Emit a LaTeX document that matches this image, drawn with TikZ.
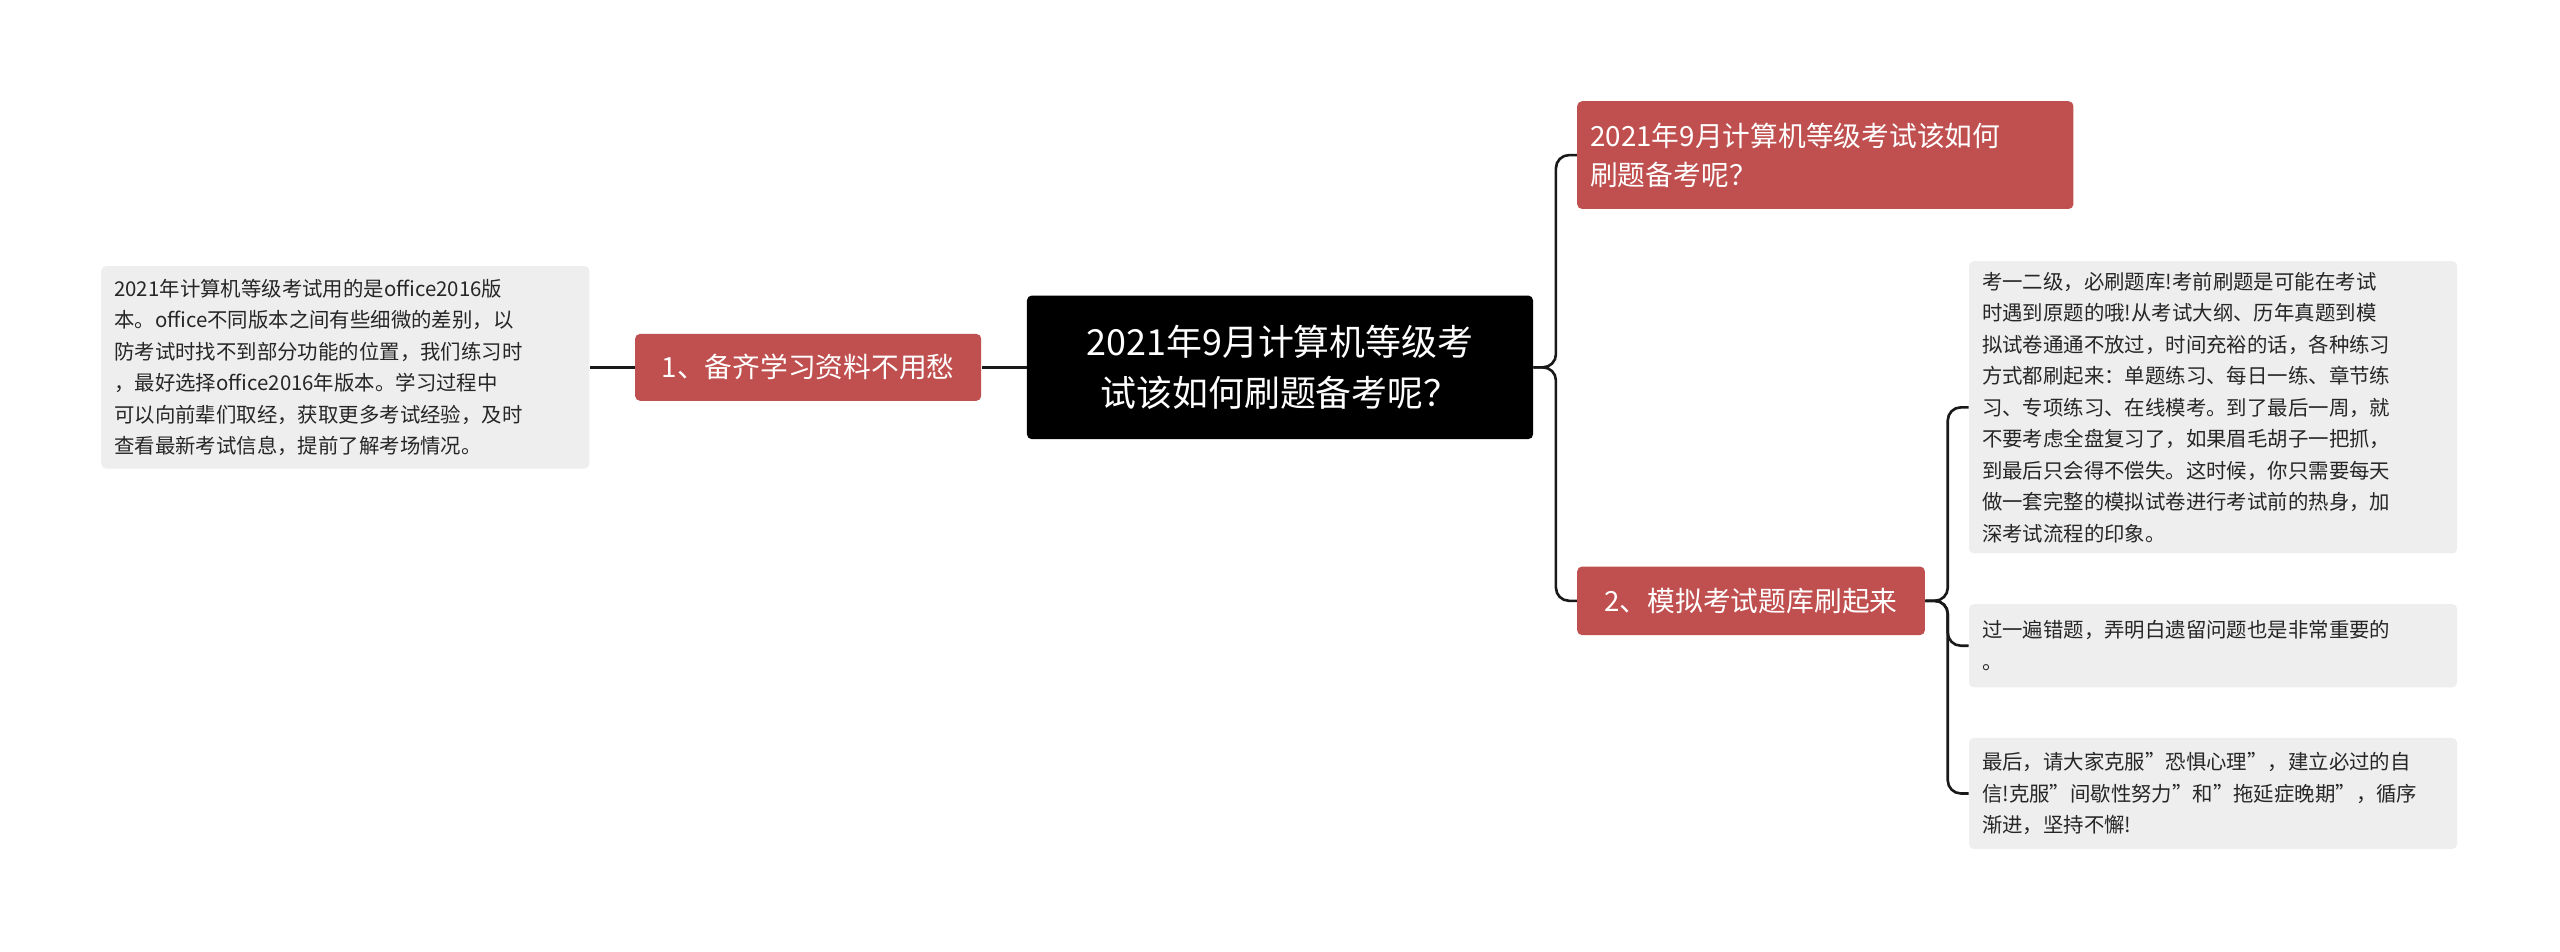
\documentclass[tikz,border=0pt]{standalone}
\usepackage{fontspec}
\setmainfont{Noto Sans CJK SC}
\begin{document}
\begin{tikzpicture}[x=1pt,y=-1pt,
  redbox/.style={fill=red!55!black!60!red, fill=rbox, text=white, rounded corners=3pt, font=\fontsize{17}{24}\selectfont, inner sep=0pt},
  leaf/.style={fill=gray!13, text=black!85, rounded corners=3pt, font=\fontsize{12.5}{19.3}\selectfont, inner sep=0pt, align=left},
  conn/.style={line width=1.6pt, draw=black!90, rounded corners=8pt}]
\definecolor{rbox}{HTML}{C0504F}
\fill[white] (0,0) rectangle (1568,583);
\node[fill=black, text=white, rounded corners=3pt, minimum width=310, minimum height=88, text width=280, align=center, font=\fontsize{22}{31}\selectfont, inner sep=0pt] (c) at (784,225) {2021年9月计算机等级考\\试该如何刷题备考呢？};
\node[redbox, minimum width=212, minimum height=41] (l1) at (495,225) {1、备齐学习资料不用愁};
\node[leaf, minimum width=299, minimum height=124, text width=283] (ll) at (211.5,225) {2021年计算机等级考试用的是office2016版\\本。office不同版本之间有些细微的差别，以\\防考试时找不到部分功能的位置，我们练习时\\，最好选择office2016年版本。学习过程中\\可以向前辈们取经，获取更多考试经验，及时\\查看最新考试信息，提前了解考场情况。};
\node[redbox, minimum width=304, minimum height=66, text width=288, align=left] (r1) at (1118,95) {2021年9月计算机等级考试该如何\\刷题备考呢？};
\node[redbox, minimum width=213, minimum height=42] (r2) at (1072.5,368) {2、模拟考试题库刷起来};
\node[leaf, minimum width=299, minimum height=179, text width=283] (a) at (1355.5,249.5) {考一二级，必刷题库!考前刷题是可能在考试\\时遇到原题的哦!从考试大纲、历年真题到模\\拟试卷通通不放过，时间充裕的话，各种练习\\方式都刷起来：单题练习、每日一练、章节练\\习、专项练习、在线模考。到了最后一周，就\\不要考虑全盘复习了，如果眉毛胡子一把抓，\\到最后只会得不偿失。这时候，你只需要每天\\做一套完整的模拟试卷进行考试前的热身，加\\深考试流程的印象。};
\node[leaf, minimum width=299, minimum height=51, text width=283] (b) at (1355.5,395.5) {过一遍错题，弄明白遗留问题也是非常重要的\\。};
\node[leaf, minimum width=299, minimum height=68, text width=283] (d) at (1355.5,486) {最后，请大家克服"恐惧心理"，建立必过的自\\信!克服"间歇性努力"和"拖延症晚期"，循序\\渐进，坚持不懈!};
\draw[conn] (c.west) -- (l1.east);
\draw[conn] (l1.west) -- (ll.east);
\draw[conn] (c.east) -- (953,225) |- (r1.west);
\draw[conn] (c.east) -- (953,225) |- (r2.west);
\draw[conn] (r2.east) -- (1193,368) |- (a.west);
\draw[conn] (r2.east) -- (1193,368) |- (b.west);
\draw[conn] (r2.east) -- (1193,368) |- (d.west);
\end{tikzpicture}
\end{document}
